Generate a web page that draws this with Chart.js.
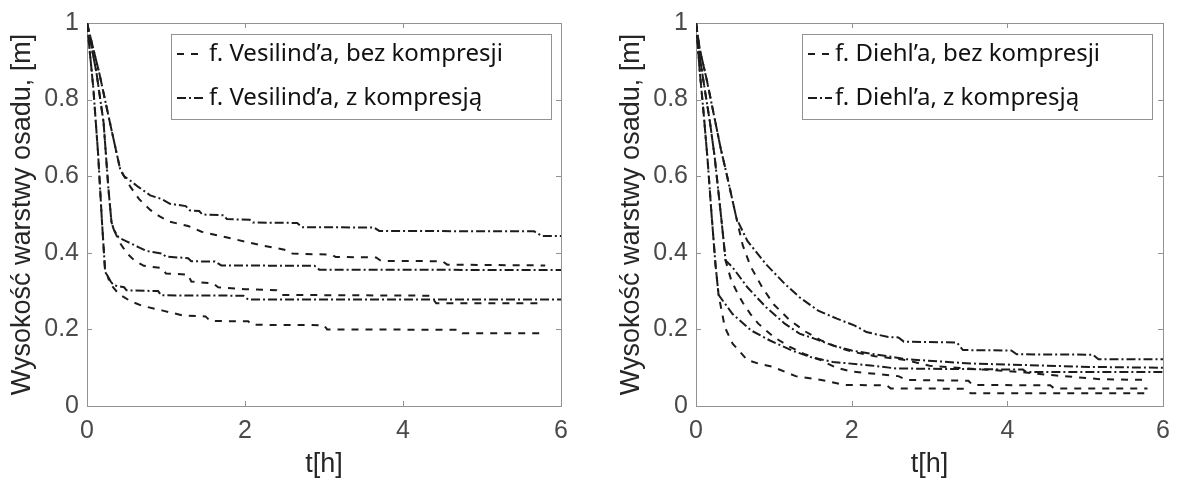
<!DOCTYPE html>
<html lang="pl">
<head>
<meta charset="UTF-8">
<title>Wysokość warstwy osadu</title>
<style>
  body { margin: 0; background: #fff; width: 1180px; height: 483px; overflow: hidden; position: relative; }
  .panel { position: absolute; top: 0; }
  #vesilind-panel { left: 0; }
  #diehl-panel { left: 609px; }
</style>
</head>
<body>
<div class="panel" id="vesilind-panel"><canvas id="vesilind-chart" width="590" height="483"></canvas></div>
<div class="panel" id="diehl-panel"><canvas id="diehl-chart" width="571" height="483"></canvas></div>
<script src="https://cdn.jsdelivr.net/npm/chart.js"></script>
<script>
// axis ticks
const tTicks = [0, 2, 4, 6];
const hTicks = [0, 0.2, 0.4, 0.6, 0.8, 1];

// legend labels
const vesLabels = ['f. Vesilind’a, bez kompresji', 'f. Vesilind’a, z kompresją'];
const dieLabels = ['f. Diehl’a, bez kompresji', 'f. Diehl’a, z kompresją'];

// Vesilind: [t h, height m], three runs each without / with compression
const vesBezA = [[0,1],[0.16,0.865],[0.29,0.74],[0.42,0.618],[0.47,0.6],[0.55,0.572],[0.66,0.54],[0.8,0.512],[0.92,0.495],[1.05,0.481],[1.28,0.47],[1.45,0.455],[1.66,0.445],[1.9,0.434],[2.2,0.42],[2.5,0.408],[2.6,0.398],[3.1,0.395],[3.15,0.389],[3.66,0.388],[3.72,0.379],[4.5,0.378],[4.56,0.369],[5.8,0.367]];
const vesZA = [[0,1],[0.16,0.865],[0.29,0.74],[0.42,0.618],[0.47,0.6],[0.55,0.588],[0.65,0.572],[0.8,0.55],[0.95,0.54],[1.05,0.528],[1.25,0.522],[1.3,0.511],[1.42,0.509],[1.46,0.5],[1.73,0.498],[1.77,0.488],[2.06,0.486],[2.1,0.479],[2.66,0.478],[2.72,0.467],[3.63,0.466],[3.7,0.457],[5.66,0.456],[5.76,0.444],[6,0.444]];
const vesBezB = [[0,1],[0.12,0.87],[0.21,0.74],[0.27,0.57],[0.31,0.48],[0.34,0.46],[0.42,0.425],[0.5,0.4],[0.6,0.38],[0.72,0.366],[0.95,0.36],[1.0,0.346],[1.28,0.343],[1.32,0.325],[1.6,0.32],[1.66,0.31],[2.0,0.305],[2.4,0.302],[2.47,0.29],[4.35,0.288],[4.42,0.268],[5.78,0.268]];
const vesZB = [[0,1],[0.12,0.87],[0.21,0.74],[0.27,0.57],[0.31,0.48],[0.34,0.46],[0.4,0.44],[0.5,0.43],[0.65,0.415],[0.75,0.405],[0.95,0.398],[1.0,0.39],[1.28,0.386],[1.32,0.378],[1.62,0.377],[1.7,0.367],[2.88,0.366],[2.94,0.356],[6,0.355]];
const vesBezC = [[0,1],[0.08,0.83],[0.14,0.66],[0.19,0.48],[0.23,0.35],[0.26,0.34],[0.29,0.32],[0.4,0.293],[0.54,0.275],[0.69,0.262],[0.96,0.249],[1.22,0.236],[1.5,0.234],[1.56,0.222],[2.04,0.221],[2.09,0.212],[3.0,0.211],[3.04,0.2],[4.7,0.199],[4.75,0.19],[5.78,0.19]];
const vesZC = [[0,1],[0.08,0.83],[0.14,0.66],[0.19,0.48],[0.23,0.35],[0.26,0.34],[0.3,0.325],[0.34,0.315],[0.47,0.31],[0.5,0.302],[0.9,0.3],[0.94,0.289],[1.98,0.288],[2.04,0.278],[6,0.278]];

// Diehl
const dieBezA = [[0,1],[0.05,0.93],[0.14,0.85],[0.22,0.77],[0.32,0.67],[0.4,0.6],[0.52,0.49],[0.6,0.42],[0.7,0.365],[0.85,0.31],[1.0,0.265],[1.2,0.225],[1.4,0.195],[1.6,0.172],[1.8,0.155],[2.0,0.142],[2.3,0.13],[2.7,0.12],[3.0,0.105],[3.5,0.098],[4.2,0.088],[4.6,0.08],[5.2,0.07],[5.8,0.068]];
const dieZA = [[0,1],[0.05,0.93],[0.14,0.85],[0.22,0.77],[0.32,0.67],[0.4,0.6],[0.52,0.49],[0.66,0.431],[0.9,0.37],[1.14,0.319],[1.33,0.284],[1.57,0.249],[1.81,0.228],[2.04,0.21],[2.19,0.193],[2.47,0.18],[2.6,0.179],[2.67,0.168],[3.35,0.166],[3.43,0.146],[4.05,0.145],[4.12,0.135],[5.1,0.134],[5.17,0.122],[6,0.122]];
const dieBezB = [[0,1],[0.05,0.91],[0.11,0.83],[0.18,0.74],[0.24,0.65],[0.33,0.48],[0.38,0.38],[0.45,0.33],[0.52,0.3],[0.6,0.27],[0.7,0.24],[0.8,0.215],[1.0,0.18],[1.2,0.155],[1.4,0.135],[1.6,0.12],[1.8,0.1],[2.0,0.09],[2.6,0.078],[2.7,0.068],[3.5,0.066],[3.55,0.055],[4.55,0.054],[4.6,0.046],[5.8,0.046]];
const dieZB = [[0,1],[0.05,0.91],[0.11,0.83],[0.18,0.74],[0.24,0.65],[0.33,0.48],[0.38,0.38],[0.47,0.362],[0.66,0.31],[0.9,0.258],[1.14,0.215],[1.33,0.189],[1.52,0.176],[1.76,0.158],[2.0,0.145],[2.24,0.137],[2.71,0.122],[3.53,0.111],[5.05,0.102],[6,0.1]];
const dieBezC = [[0,1],[0.05,0.87],[0.1,0.76],[0.15,0.64],[0.2,0.5],[0.25,0.37],[0.29,0.29],[0.37,0.206],[0.47,0.163],[0.66,0.12],[0.8,0.111],[0.99,0.102],[1.28,0.078],[1.61,0.068],[1.9,0.055],[2.45,0.054],[2.5,0.046],[3.45,0.045],[3.53,0.033],[5.8,0.033]];
const dieZC = [[0,1],[0.05,0.87],[0.1,0.76],[0.15,0.64],[0.2,0.5],[0.25,0.37],[0.29,0.29],[0.47,0.24],[0.71,0.197],[0.95,0.171],[1.23,0.145],[1.47,0.128],[1.76,0.115],[2.24,0.106],[2.57,0.098],[4.2,0.095],[4.24,0.089],[6,0.089]];

const LINE = '#1c1c1c';
const AXIS = '#929292';
const DASH = [7, 7];
const DASHDOT = [9, 3, 2, 3];

// box + inward ticks on all four sides, drawn under the curves
const frameTicks = {
    id: 'frameTicks',
    beforeDatasetsDraw(chart) {
        const { ctx, chartArea: a, scales: { x, y } } = chart;
        const len = 5;
        ctx.save();
        ctx.strokeStyle = AXIS;
        ctx.lineWidth = 1;
        ctx.beginPath();
        x.ticks.forEach(t => {
            const px = Math.round(x.getPixelForValue(t.value)) + 0.5;
            ctx.moveTo(px, a.bottom); ctx.lineTo(px, a.bottom - len);
            ctx.moveTo(px, a.top); ctx.lineTo(px, a.top + len);
        });
        y.ticks.forEach(t => {
            const py = Math.round(y.getPixelForValue(t.value)) + 0.5;
            ctx.moveTo(a.left, py); ctx.lineTo(a.left + len, py);
            ctx.moveTo(a.right, py); ctx.lineTo(a.right - len, py);
        });
        ctx.stroke();
        ctx.strokeRect(Math.round(a.left) + 0.5, Math.round(a.top) + 0.5, Math.round(a.width), Math.round(a.height));
        ctx.restore();
    }
};

// framed legend in the upper right corner, one row per distinct label
const boxLegend = {
    id: 'boxLegend',
    afterDraw(chart, args, opts) {
        const { ctx, chartArea: a } = chart;
        const x0 = Math.round(a.right - opts.right - opts.width);
        const y0 = Math.round(a.top + opts.top);
        const items = [];
        chart.data.datasets.forEach(ds => {
            if (!items.find(it => it.text === ds.label)) items.push({ text: ds.label, dash: ds.borderDash });
        });
        ctx.save();
        ctx.fillStyle = '#fff';
        ctx.fillRect(x0, y0, opts.width, opts.height);
        ctx.strokeStyle = AXIS;
        ctx.lineWidth = 1;
        ctx.strokeRect(x0 + 0.5, y0 + 0.5, opts.width, opts.height);
        items.forEach((it, i) => {
            const cy = y0 + opts.rows[i];
            ctx.strokeStyle = LINE;
            ctx.lineWidth = 2;
            ctx.setLineDash(it.dash);
            ctx.beginPath();
            ctx.moveTo(x0 + opts.sampleX, cy);
            ctx.lineTo(x0 + opts.sampleX + opts.sampleW, cy);
            ctx.stroke();
            ctx.setLineDash([]);
            ctx.fillStyle = '#111';
            ctx.font = '24px "Noto Sans"';
            ctx.textBaseline = 'middle';
            ctx.fillText(it.text, x0 + opts.textX, cy);
        });
        ctx.restore();
    }
};

function makeSeries(bez, z, labels) {
    const out = [];
    for (let i = 0; i < bez.length; i++) {
        out.push({ label: labels[0], data: bez[i], borderDash: DASH });
        out.push({ label: labels[1], data: z[i], borderDash: DASHDOT });
    }
    return out.map(ds => ({
        ...ds,
        data: ds.data.map(p => ({ x: p[0], y: p[1] })),
        borderColor: LINE,
        borderWidth: 2,
        pointRadius: 0,
        tension: 0,
        fill: false
    }));
}

function makeChart(id, datasets, rightPad, titlePad, legendOpts) {
    const tickFont = { family: '"Liberation Sans", Arial, sans-serif', size: 25 };
    const titleFont = { family: '"Liberation Sans", Arial, sans-serif', size: 27 };
    new Chart(document.getElementById(id), {
        type: 'line',
        data: { datasets },
        options: {
            responsive: false,
            animation: false,
            layout: { padding: { left: 0, top: 21, right: rightPad, bottom: 0 } },
            plugins: {
                legend: { display: false },
                tooltip: { enabled: false },
                boxLegend: legendOpts
            },
            scales: {
                x: {
                    type: 'linear',
                    min: 0,
                    max: 6,
                    afterBuildTicks: s => { s.ticks = tTicks.map(v => ({ value: v })); },
                    afterFit: s => { s.height = 77; },
                    grid: { display: false, drawTicks: false },
                    border: { display: false },
                    ticks: { font: tickFont, color: '#4a4a4a', padding: 10, maxRotation: 0, autoSkip: false, callback: v => String(v) },
                    title: { display: true, text: 't[h]', font: titleFont, color: '#262626', padding: { top: 0, bottom: 2 } }
                },
                y: {
                    type: 'linear',
                    min: 0,
                    max: 1,
                    afterBuildTicks: s => { s.ticks = hTicks.map(v => ({ value: v })); },
                    afterFit: s => { s.width = 87; },
                    grid: { display: false, drawTicks: false },
                    border: { display: false },
                    ticks: { font: tickFont, color: '#4a4a4a', padding: 8, autoSkip: false, callback: v => String(v) },
                    title: { display: true, text: 'Wysokość warstwy osadu, [m]', font: titleFont, color: '#262626', padding: { top: titlePad, bottom: 0 } }
                }
            }
        },
        plugins: [frameTicks, boxLegend]
    });
}

makeChart('vesilind-chart', makeSeries([vesBezA, vesBezB, vesBezC], [vesZA, vesZB, vesZC], vesLabels), 29, 6,
    { right: 10, top: 11, width: 380, height: 85, sampleX: 6, sampleW: 26, textX: 38, rows: [20, 64] });
makeChart('diehl-chart', makeSeries([dieBezA, dieBezB, dieBezC], [dieZA, dieZB, dieZC], dieLabels), 11, 6,
    { right: 11, top: 11, width: 350, height: 85, sampleX: 6, sampleW: 24, textX: 33, rows: [20, 64] });
</script>
</body>
</html>
